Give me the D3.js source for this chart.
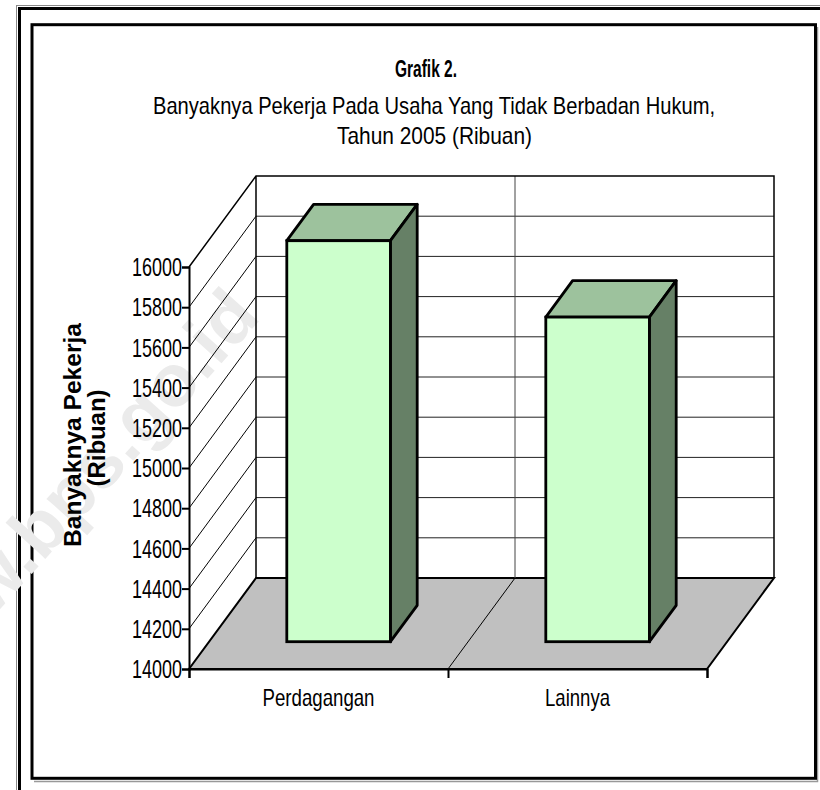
<!DOCTYPE html>
<html>
    <head>
        <script src="https://cdn.jsdelivr.net/npm/d3@7/dist/d3.min.js"></script>
        <style>
            body{ margin:0; background:#fff; }
            .chart text{
                font-family: "Liberation Sans", Arial, sans-serif;
                fill:#000;
            }
            .axis path, .axis line{ stroke:#000; stroke-width:2px; }
        </style>
    </head>
    <body>
        <svg class="chart" width="820" height="790"></svg>
        <script>
            var categories = ["Perdagangan", "Lainnya"];
            var values = [15995, 15615];
            var yTicks = [14000, 14200, 14400, 14600, 14800, 15000, 15200, 15400, 15600, 15800, 16000];

            var svg = d3.select("svg");

            // oblique depth of the 3d box
            var depth = {dx: 67, dy: -91};
            var barFront = 0.3, barBack = 0.7, barShare = 0.4;

            var x = d3.scaleBand().domain(categories).range([189, 707]);
            var xEdge = d3.scaleLinear().domain([0, categories.length]).range([189, 707]);
            var y = d3.scaleLinear().domain([yTicks[0], yTicks[yTicks.length-1]]).range([669, 267]);

            // frames
            svg.append("rect").attr("x",16.5).attr("y",5.5).attr("width",900).attr("height",900)
               .attr("fill","none").attr("stroke","#888").attr("stroke-width",1);
            svg.append("rect").attr("x",19.5).attr("y",8.5).attr("width",900).attr("height",900)
               .attr("fill","none").attr("stroke","#000").attr("stroke-width",3);
            svg.append("path").attr("d","M817.5,27 V781.5 H34")
               .attr("fill","none").attr("stroke","#999").attr("stroke-width",1.5);
            svg.append("rect").attr("x",32).attr("y",24.7).attr("width",783.5).attr("height",753.6)
               .attr("fill","#fff").attr("stroke","#000").attr("stroke-width",3);

            // watermark
            svg.append("text").attr("transform","translate(262,318) rotate(-48)")
               .attr("text-anchor","end").style("font-size","74px").style("font-weight","bold")
               .style("fill","#ebebeb").text("www.bps.go.id");

            var g = svg.append("g");
            var y0 = y.range()[0], yTop = y.range()[1];
            var xl = x.range()[0], xr = x.range()[1];

            // floor
            g.append("polygon")
             .attr("points",[[xl,y0],[xr,y0],[xr+depth.dx,y0+depth.dy],[xl+depth.dx,y0+depth.dy]].join(" "))
             .attr("fill","#c0c0c0").attr("stroke","#000").attr("stroke-width",2);

            // gridlines on back wall and side wall
            var grid = yTicks.slice(1, -1);
            g.selectAll(".gback").data(grid).enter().append("line")
             .attr("x1",xl+depth.dx).attr("x2",xr+depth.dx)
             .attr("y1",function(d){return y(d)+depth.dy;}).attr("y2",function(d){return y(d)+depth.dy;})
             .attr("stroke","#222").attr("stroke-width",1);
            g.selectAll(".gside").data(grid).enter().append("line")
             .attr("x1",xl).attr("x2",xl+depth.dx)
             .attr("y1",function(d){return y(d);}).attr("y2",function(d){return y(d)+depth.dy;})
             .attr("stroke","#000").attr("stroke-width",1);

            // category divisions
            var inner = d3.range(1, categories.length);
            g.selectAll(".dback").data(inner).enter().append("line")
             .attr("x1",function(d){return xEdge(d)+depth.dx;}).attr("x2",function(d){return xEdge(d)+depth.dx;})
             .attr("y1",yTop+depth.dy).attr("y2",y0+depth.dy)
             .attr("stroke","#444").attr("stroke-width",1);
            g.selectAll(".dfloor").data(inner).enter().append("line")
             .attr("x1",function(d){return xEdge(d);}).attr("x2",function(d){return xEdge(d)+depth.dx;})
             .attr("y1",y0).attr("y2",y0+depth.dy)
             .attr("stroke","#000").attr("stroke-width",1);

            // wall borders
            g.append("path")
             .attr("d","M"+xl+","+yTop+" L"+(xl+depth.dx)+","+(yTop+depth.dy)+" H"+(xr+depth.dx)+" V"+(y0+depth.dy)
                  +" M"+(xl+depth.dx)+","+(yTop+depth.dy)+" V"+(y0+depth.dy))
             .attr("fill","none").attr("stroke","#000").attr("stroke-width",1.5);

            // bars
            var bw = x.bandwidth()*barShare;
            var fdx = depth.dx*barFront, fdy = depth.dy*barFront;
            var bdx = depth.dx*(barBack-barFront), bdy = depth.dy*(barBack-barFront);
            var bars = g.selectAll(".bar").data(values).enter().append("g").attr("class","bar");
            function bx(d,i){ return x(categories[i]) + (x.bandwidth()-bw)/2 + fdx; }
            bars.append("polygon")
                .attr("points",function(d,i){
                    var a = bx(d,i), t = y(d)+fdy;
                    return [[a,t],[a+bw,t],[a+bw+bdx,t+bdy],[a+bdx,t+bdy]].join(" ");
                })
                .attr("fill","#9dc29d").attr("stroke","#000").attr("stroke-width",2.8).attr("stroke-linejoin","round");
            bars.append("polygon")
                .attr("points",function(d,i){
                    var a = bx(d,i)+bw, t = y(d)+fdy, b = y0+fdy;
                    return [[a,t],[a+bdx,t+bdy],[a+bdx,b+bdy],[a,b]].join(" ");
                })
                .attr("fill","#668066").attr("stroke","#000").attr("stroke-width",2.8).attr("stroke-linejoin","round");
            bars.append("rect")
                .attr("x",bx).attr("y",function(d){return y(d)+fdy;})
                .attr("width",bw).attr("height",function(d){return y0-y(d);})
                .attr("fill","#ccffcc").attr("stroke","#000").attr("stroke-width",2.8);

            // y axis
            var yAxis = d3.axisLeft(y).tickValues(yTicks).tickSize(7).tickPadding(1).tickFormat(d3.format("d"));
            var ya = g.append("g").attr("class","axis").attr("transform","translate("+xl+",0)").call(yAxis);
            ya.selectAll("text").style("font-size","25px").attr("x",-7).attr("dy","0.35em")
              .attr("textLength",50).attr("lengthAdjust","spacingAndGlyphs");

            // x axis (edge ticks + centred labels)
            var xa = g.append("g").attr("class","axis").attr("transform","translate(0,"+y0+")")
                      .call(d3.axisBottom(xEdge).tickValues(d3.range(0, categories.length+1)).tickFormat("").tickSizeOuter(0).tickSize(9));
            var labelWidth = {"Perdagangan":112, "Lainnya":65};
            var xl2 = g.append("g").attr("transform","translate(0,"+y0+")").call(d3.axisBottom(x).tickSize(0));
            xl2.select(".domain").remove();
            xl2.selectAll("text").style("font-size","24px").attr("y",37).attr("dy",0)
               .attr("textLength",function(d){return labelWidth[d];}).attr("lengthAdjust","spacingAndGlyphs");

            // titles
            svg.append("text").attr("x",395).attr("y",77)
               .style("font-size","24px").style("font-weight","bold")
               .attr("textLength",62).attr("lengthAdjust","spacingAndGlyphs").text("Grafik 2.");
            svg.append("text").attr("x",153).attr("y",114)
               .style("font-size","24px").attr("textLength",562).attr("lengthAdjust","spacingAndGlyphs")
               .text("Banyaknya Pekerja Pada Usaha Yang Tidak Berbadan Hukum,");
            svg.append("text").attr("x",337).attr("y",144)
               .style("font-size","24px").attr("textLength",195).attr("lengthAdjust","spacingAndGlyphs")
               .text("Tahun 2005 (Ribuan)");

            // y axis title
            svg.append("text").attr("transform","translate(81,435) rotate(-90)").attr("text-anchor","middle")
               .style("font-size","24px").style("font-weight","bold")
               .attr("textLength",224).attr("lengthAdjust","spacingAndGlyphs").text("Banyaknya Pekerja");
            svg.append("text").attr("transform","translate(105,438) rotate(-90)").attr("text-anchor","middle")
               .style("font-size","24px").style("font-weight","bold")
               .attr("textLength",97).attr("lengthAdjust","spacingAndGlyphs").text("(Ribuan)");
        </script>
    </body>
</html>
